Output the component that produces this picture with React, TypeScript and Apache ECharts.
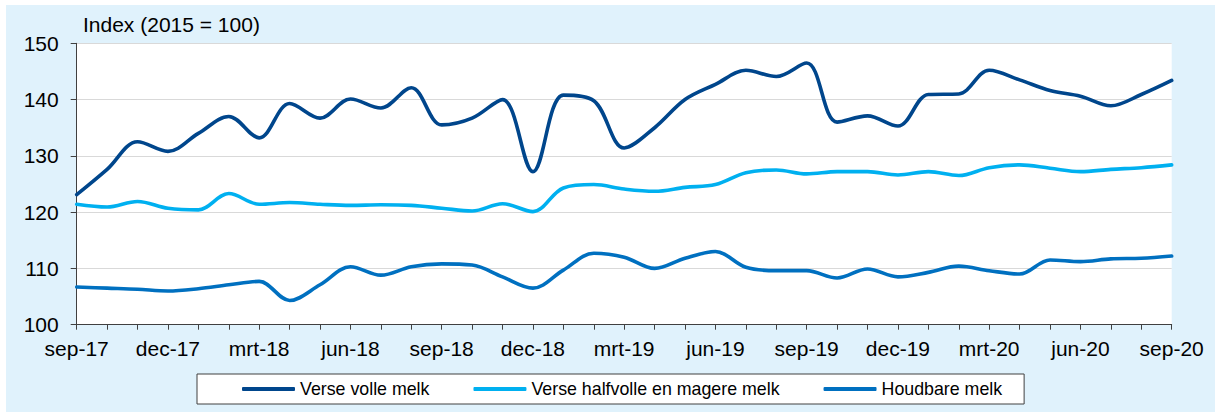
import React, { useEffect, useRef } from "react";
import * as echarts from "echarts";

const months: string[] = [
  "sep-17", "okt-17", "nov-17", "dec-17", "jan-18", "feb-18", "mrt-18", "apr-18", "mei-18", "jun-18", "jul-18", "aug-18",
  "sep-18", "okt-18", "nov-18", "dec-18", "jan-19", "feb-19", "mrt-19", "apr-19", "mei-19", "jun-19", "jul-19", "aug-19",
  "sep-19", "okt-19", "nov-19", "dec-19", "jan-20", "feb-20", "mrt-20", "apr-20", "mei-20", "jun-20", "jul-20", "aug-20",
  "sep-20",
];

const verseVolle: number[] = [
  123.1, 127.6, 132.5, 130.8, 134.0, 137.0, 133.2, 139.3, 136.7, 140.1, 138.5, 142.1,
  135.5, 136.7, 140.0, 127.2, 140.8, 139.8, 131.4, 135.0, 140.0, 142.7, 145.2, 144.1,
  146.5, 136.0, 137.1, 135.3, 140.9, 141.0, 145.2, 143.5, 141.6, 140.6, 138.9, 140.9,
  143.4,
];

const verseHalfvolle: number[] = [
  121.4, 120.9, 121.9, 120.7, 120.4, 123.3, 121.4, 121.7, 121.4, 121.2, 121.3, 121.2,
  120.7, 120.2, 121.5, 120.1, 124.3, 124.9, 124.1, 123.7, 124.4, 124.9, 127.0, 127.5,
  126.8, 127.2, 127.2, 126.6, 127.2, 126.5, 127.9, 128.4, 127.8, 127.2, 127.6, 127.9,
  128.4,
];

const houdbare: number[] = [
  106.7, 106.5, 106.3, 106.0, 106.4, 107.1, 107.7, 104.3, 107.1, 110.3, 108.8, 110.3,
  110.8, 110.6, 108.5, 106.5, 109.7, 112.7, 112.0, 110.0, 111.8, 113.0, 110.2, 109.6,
  109.6, 108.3, 109.9, 108.5, 109.3, 110.4, 109.6, 109.0, 111.5, 111.2, 111.7, 111.8,
  112.2,
];

const seriesNames: string[] = ["Verse volle melk", "Verse halfvolle en magere melk", "Houdbare melk"];
const seriesColors: string[] = ["#00468c", "#00b0f0", "#0070c0"];
const yTitle = "Index (2015 = 100)";

const FONT = "'Liberation Sans', Arial, sans-serif";

export default function App() {
  const ref = useRef<HTMLDivElement>(null);
  useEffect(() => {
    if (!ref.current) return;
    const chart = echarts.init(ref.current, undefined, { renderer: "svg" });
    const data = [verseVolle, verseHalfvolle, houdbare];
    chart.setOption({
      animation: false,
      backgroundColor: "transparent",
      textStyle: { fontFamily: FONT },
      grid: {
        left: 76.7,
        right: 43.3,
        top: 43.3,
        bottom: 87.3,
        show: true,
        backgroundColor: "#ffffff",
        borderWidth: 0,
        containLabel: false,
      },
      graphic: [
        {
          type: "text",
          left: 83,
          top: 14,
          style: { text: yTitle, fontSize: 21, fontFamily: FONT, fill: "#000" },
        },
      ],
      legend: {
        data: seriesNames,
        left: 197,
        top: 374,
        orient: "horizontal",
        padding: [6, 22, 6, 45],
        itemGap: 44,
        itemWidth: 53,
        itemHeight: 4,
        icon: "roundRect",
        backgroundColor: "#ffffff",
        borderColor: "#404040",
        borderWidth: 1,
        borderRadius: 0,
        textStyle: { fontSize: 17.8, fontFamily: FONT, color: "#000", padding: [0, 0, 0, 0] },
      },
      xAxis: {
        type: "category",
        data: months,
        boundaryGap: false,
        axisLine: { show: true, lineStyle: { color: "#404040", width: 1 } },
        axisTick: { show: true, interval: 0, length: 5, lineStyle: { color: "#404040" } },
        axisLabel: {
          interval: 2,
          fontSize: 21,
          fontFamily: FONT,
          color: "#000",
          margin: 13,
        },
        splitLine: { show: false },
      },
      yAxis: {
        type: "value",
        min: 100,
        max: 150,
        interval: 10,
        axisLine: { show: true, lineStyle: { color: "#404040", width: 1 } },
        axisTick: { show: true, length: 6, lineStyle: { color: "#404040" } },
        axisLabel: { fontSize: 21, fontFamily: FONT, color: "#000", margin: 18 },
        splitLine: { show: true, lineStyle: { color: "#d9d9d9", width: 1 } },
      },
      series: seriesNames.map((name, i) => ({
        name,
        type: "line",
        data: data[i],
        smooth: 0.35,
        showSymbol: false,
        symbol: "none",
        color: seriesColors[i],
        lineStyle: { width: 3.6, color: seriesColors[i], cap: "round", join: "round" },
        z: 3 - i,
      })),
    });
    return () => chart.dispose();
  }, []);
  return (
    <div style={{ position: "fixed", left: 0, top: 0, width: 1215, height: 412, background: "#ffffff" }}>
      <div style={{ position: "absolute", left: 6, top: 5, width: 1209, height: 407, background: "#e0f2fc" }} />
      <div ref={ref} style={{ position: "absolute", left: 0, top: 0, width: 1215, height: 412 }} />
    </div>
  );
}
